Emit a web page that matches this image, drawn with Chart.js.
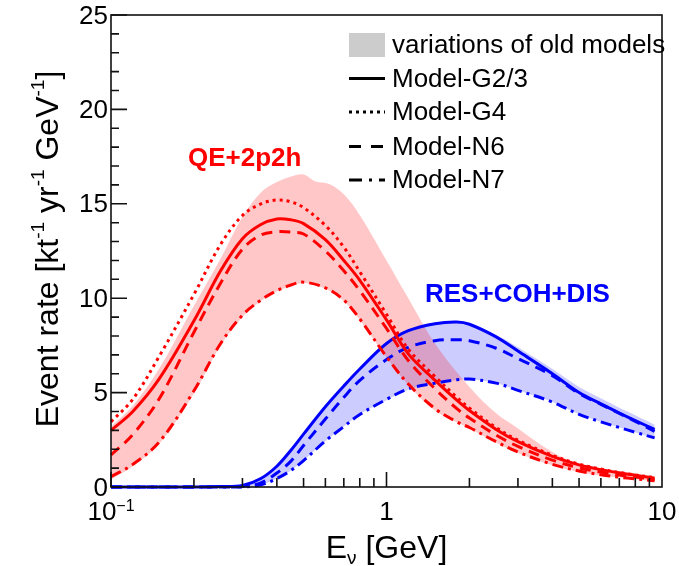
<!DOCTYPE html>
<html>
<head>
<meta charset="utf-8">
<script src="https://cdn.jsdelivr.net/npm/chart.js@4.4.0/dist/chart.umd.min.js"></script>
<style>
  html, body { margin: 0; padding: 0; background: #fff; }
  canvas { display: block; }
</style>
</head>
<body>
<canvas id="rateChart" width="679" height="566"></canvas>
<script>
// Neutrino energy grid [GeV] for the model curves
const energies = [0.1, 0.12, 0.15, 0.2, 0.25, 0.3, 0.35, 0.4, 0.45, 0.5, 0.6, 0.7, 0.8, 1.0, 1.2, 1.5, 1.8, 2, 2.5, 3, 4, 5, 6, 7, 8, 9.4];

// QE+2p2h event rates [kt^-1 yr^-1 GeV^-1]
const qeG23 = [3.0, 4.0, 5.75, 8.8, 11.45, 13.15, 13.9, 14.2, 14.15, 13.95, 13.1, 12.0, 10.95, 8.85, 7.05, 5.65, 4.6, 4.05, 3.05, 2.4, 1.62, 1.17, 0.92, 0.75, 0.62, 0.47];
const qeG4  = [3.45, 4.65, 6.95, 10.2, 12.85, 14.38, 15.0, 15.2, 15.1, 14.8, 13.85, 12.7, 11.4, 9.15, 7.3, 5.85, 4.75, 4.18, 3.15, 2.48, 1.68, 1.21, 0.95, 0.77, 0.64, 0.5];
const qeN6  = [1.7, 2.78, 4.7, 8.2, 10.8, 12.6, 13.35, 13.52, 13.5, 13.4, 12.5, 11.45, 10.4, 8.4, 6.7, 5.2, 4.15, 3.65, 2.75, 2.15, 1.42, 1.02, 0.79, 0.63, 0.53, 0.4];
const qeN7  = [0.55, 1.2, 2.4, 5.1, 7.6, 9.1, 9.9, 10.4, 10.7, 10.85, 10.55, 9.9, 8.9, 6.9, 5.45, 4.15, 3.45, 3.15, 2.4, 1.85, 1.2, 0.85, 0.65, 0.52, 0.43, 0.33];

// RES+COH+DIS event rates
const resG23 = [0, 0, 0, 0, 0.02, 0.08, 0.45, 1.1, 1.95, 2.8, 4.25, 5.35, 6.25, 7.6, 8.28, 8.65, 8.74, 8.62, 7.95, 7.2, 6.0, 5.0, 4.4, 3.92, 3.52, 3.05];
const resN6  = [0, 0, 0, 0, 0, 0.03, 0.22, 0.74, 1.37, 2.2, 3.6, 4.75, 5.65, 6.75, 7.4, 7.75, 7.8, 7.75, 7.35, 6.8, 5.9, 4.95, 4.38, 3.9, 3.48, 2.95];
const resN7  = [0, 0, 0, 0, 0, 0, 0.12, 0.45, 0.88, 1.4, 2.44, 3.2, 3.84, 4.64, 5.2, 5.5, 5.68, 5.72, 5.5, 5.12, 4.5, 3.85, 3.45, 3.15, 2.9, 2.6];

// Envelopes of the old model variations
const bandEnergies = [0.1, 0.12, 0.15, 0.2, 0.25, 0.3, 0.35, 0.4, 0.45, 0.5, 0.55, 0.62, 0.7, 0.8, 1.0, 1.2, 1.5, 2, 2.5, 3, 4, 5, 6, 7, 8, 9.4];
const qeBandHigh  = [3.2, 4.3, 6.3, 9.6, 12.1, 14.3, 15.6, 16.15, 16.45, 16.55, 16.2, 16.05, 15.5, 14.4, 12.0, 10.0, 7.6, 5.3, 3.9, 3.1, 1.85, 1.2, 0.95, 0.8, 0.68, 0.58];
const qeBandLow   = [0.4, 1.1, 2.3, 4.95, 7.5, 9.0, 9.85, 10.35, 10.65, 10.8, 10.7, 10.4, 9.85, 8.85, 6.85, 5.4, 4.05, 3.1, 2.35, 1.8, 1.15, 0.8, 0.62, 0.5, 0.41, 0.3];
const resBandHigh = [0, 0, 0, 0, 0.03, 0.12, 0.5, 1.1, 1.95, 2.8, 3.6, 4.55, 5.35, 6.25, 7.6, 8.3, 8.7, 8.65, 8.05, 7.4, 6.25, 5.3, 4.7, 4.2, 3.8, 3.3];
const resBandLow  = [0, 0, 0, 0, 0, 0, 0.12, 0.45, 0.88, 1.4, 1.95, 2.6, 3.2, 3.85, 4.6, 5.15, 5.5, 5.7, 5.5, 5.12, 4.5, 3.85, 3.45, 3.15, 2.9, 2.55];

// Axis ticks and labels
const yTicks = [0, 5, 10, 15, 20, 25];
const xTickValues = [0.1, 1, 10];
const xTickText = [['10', '\u22121'], ['1', ''], ['10', '']];
const legendLabels = ['variations of old models', 'Model-G2/3', 'Model-G4', 'Model-N6', 'Model-N7'];

const FONT = "'Liberation Sans', Arial, sans-serif";
const RED = '#ff0000';
const BLUE = '#0000ff';
const DOTTED = [3, 4];
const DASHED = [11, 7];
const DASHDOT = [11, 5, 3, 5];

function points(xs, ys) {
    return xs.map((x, i) => ({ x: x, y: ys[i] }));
}

function curve(values, color, dash) {
    return {
        data: points(energies, values),
        borderColor: color,
        borderWidth: 3,
        borderDash: dash,
        pointRadius: 0,
        fill: false,
        tension: 0.35,
        clip: 6
    };
}

function envelope(values, fillColor, fillTarget) {
    return {
        data: points(bandEnergies, values),
        borderWidth: 0,
        borderColor: 'rgba(0,0,0,0)',
        backgroundColor: fillColor,
        pointRadius: 0,
        fill: fillTarget,
        tension: 0.35
    };
}

// Draws text pieces in a row; superscript/subscript pieces get a smaller font and shift
function drawPieces(ctx, pieces, startX, baseY, size) {
    let x = startX;
    for (const p of pieces) {
        const s = p.shift ? Math.round(size * 0.6) : size;
        ctx.font = s + 'px ' + FONT;
        ctx.fillText(p.text, x, baseY + (p.shift || 0));
        x += ctx.measureText(p.text).width;
    }
}

function piecesWidth(ctx, pieces, size) {
    let w = 0;
    for (const p of pieces) {
        const s = p.shift ? Math.round(size * 0.6) : size;
        ctx.font = s + 'px ' + FONT;
        w += ctx.measureText(p.text).width;
    }
    return w;
}

// Frame, inward ticks, tick labels, axis titles, annotations and legend
const decorations = {
    id: 'decorations',
    afterDatasetsDraw(chart) {
        const { ctx, chartArea: a, scales: { x, y } } = chart;
        ctx.save();
        ctx.strokeStyle = '#111';
        ctx.lineWidth = 1.6;
        ctx.strokeRect(a.left, a.top, a.right - a.left, a.bottom - a.top);

        ctx.beginPath();
        for (let v = 0; v <= 25; v++) {
            const py = y.getPixelForValue(v);
            const len = v % 5 === 0 ? 16 : 8;
            ctx.moveTo(a.left, py);
            ctx.lineTo(a.left + len, py);
        }
        for (const decade of [0.1, 1]) {
            for (let m = 1; m <= 9; m++) {
                const px = x.getPixelForValue(decade * m);
                const len = m === 1 ? 15 : 9;
                ctx.moveTo(px, a.bottom);
                ctx.lineTo(px, a.bottom - len);
            }
        }
        ctx.stroke();

        // y tick labels
        ctx.fillStyle = '#000';
        ctx.font = '26px ' + FONT;
        ctx.textAlign = 'right';
        ctx.textBaseline = 'middle';
        for (const v of yTicks) {
            ctx.fillText(String(v), a.left - 3, y.getPixelForValue(v) + 1.5);
        }

        // x tick labels
        ctx.textAlign = 'left';
        ctx.textBaseline = 'alphabetic';
        xTickValues.forEach((v, i) => {
            const pieces = [{ text: xTickText[i][0] }];
            if (xTickText[i][1]) pieces.push({ text: xTickText[i][1], shift: -9 });
            const w = piecesWidth(ctx, pieces, 26);
            drawPieces(ctx, pieces, x.getPixelForValue(v) - w / 2, 520, 26);
        });

        // x title
        const xTitle = [{ text: 'E' }, { text: '\u03bd', shift: 6 }, { text: ' [GeV]' }];
        const xw = piecesWidth(ctx, xTitle, 32);
        drawPieces(ctx, xTitle, x.getPixelForValue(1) - xw / 2, 558, 32);

        // y title, rotated
        const yTitle = [
            { text: 'Event rate [kt' }, { text: '-1', shift: -14 },
            { text: ' yr' }, { text: '-1', shift: -14 },
            { text: ' GeV' }, { text: '-1', shift: -14 },
            { text: ']' }
        ];
        ctx.save();
        ctx.translate(58, 249);
        ctx.rotate(-Math.PI / 2);
        const yw = piecesWidth(ctx, yTitle, 32);
        drawPieces(ctx, yTitle, -yw / 2, 0, 32);
        ctx.restore();

        // component labels
        ctx.font = 'bold 26px ' + FONT;
        ctx.fillStyle = RED;
        ctx.fillText('QE+2p2h', 188, 166);
        ctx.fillStyle = BLUE;
        ctx.fillText('RES+COH+DIS', 425, 302);

        // legend
        const rows = [45, 78.5, 112, 146.5, 180];
        const styles = [null, [], DOTTED, [12, 10], [13, 7, 3, 7]];
        ctx.fillStyle = '#cccccc';
        ctx.fillRect(349, 33, 36, 24);
        ctx.strokeStyle = '#000';
        ctx.lineWidth = 3;
        for (let i = 1; i < rows.length; i++) {
            ctx.setLineDash(styles[i]);
            ctx.beginPath();
            ctx.moveTo(349, rows[i]);
            ctx.lineTo(385, rows[i]);
            ctx.stroke();
        }
        ctx.setLineDash([]);
        ctx.fillStyle = '#000';
        ctx.font = '26px ' + FONT;
        ctx.textBaseline = 'middle';
        legendLabels.forEach((label, i) => {
            ctx.fillText(label, 392, rows[i] + 1);
        });
        ctx.restore();
    }
};

const ctx = document.getElementById('rateChart').getContext('2d');
new Chart(ctx, {
    type: 'line',
    data: {
        datasets: [
            curve(qeG23, RED, []),
            curve(qeG4, RED, DOTTED),
            curve(qeN6, RED, DASHED),
            curve(qeN7, RED, DASHDOT),
            curve(resG23, BLUE, []),
            curve(resN6, BLUE, DASHED),
            curve(resN7, BLUE, DASHDOT),
            envelope(qeBandHigh, 'rgba(255, 0, 0, 0.22)', '+1'),
            envelope(qeBandLow, 'rgba(0,0,0,0)', false),
            envelope(resBandHigh, 'rgba(0, 0, 255, 0.2)', '+1'),
            envelope(resBandLow, 'rgba(0,0,0,0)', false)
        ]
    },
    options: {
        responsive: false,
        animation: false,
        devicePixelRatio: 1,
        layout: { padding: { left: 111, right: 17, top: 15, bottom: 79 } },
        scales: {
            x: { type: 'logarithmic', min: 0.1, max: 10, display: false },
            y: { type: 'linear', min: 0, max: 25, display: false }
        },
        plugins: {
            legend: { display: false },
            tooltip: { enabled: false },
            filler: { drawTime: 'beforeDatasetsDraw' }
        }
    },
    plugins: [decorations]
});
</script>
</body>
</html>
